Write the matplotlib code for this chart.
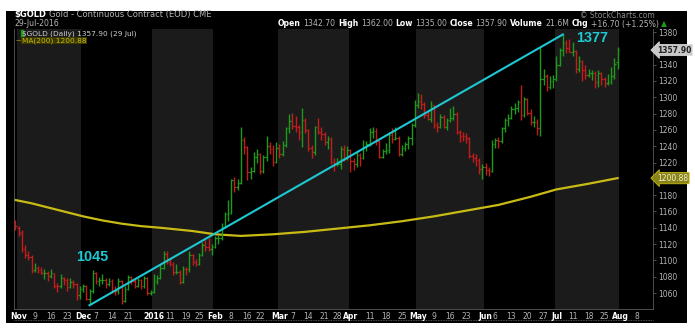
import matplotlib
matplotlib.use("Agg")
import matplotlib.pyplot as plt
import numpy as np
import pandas as pd

W, H = 695, 329

# COMEX holidays in the window
holidays = ['2015-11-26', '2015-12-25', '2016-01-01', '2016-01-18', '2016-02-15',
            '2016-03-25', '2016-05-30', '2016-07-04']

# daily OHLC, Oct 30 2015 .. Jul 29 2016 (one line per month)
opens = [1147,
    1140, 1134, 1114, 1106, 1104, 1088, 1091, 1088, 1084, 1084, 1081, 1084, 1069, 1068, 1078, 1076, 1067, 1074, 1071, 1057,
    1065, 1068, 1053, 1062, 1084, 1075, 1076, 1076, 1071, 1075, 1063, 1062, 1075, 1050, 1065, 1080, 1075, 1068, 1076, 1068, 1079, 1060,
    1061, 1075, 1078, 1091, 1108, 1098, 1096, 1086, 1086, 1073, 1090, 1089, 1106, 1098, 1096, 1107, 1119, 1116, 1114,
    1117, 1128, 1128, 1141, 1157, 1158, 1198, 1190, 1195, 1247, 1239, 1208, 1210, 1227, 1230, 1210, 1227, 1240, 1236, 1221,
    1238, 1231, 1242, 1262, 1271, 1265, 1263, 1257, 1272, 1260, 1238, 1233, 1264, 1258, 1255, 1245, 1249, 1221, 1218, 1218, 1237, 1225,
    1235, 1222, 1218, 1229, 1226, 1239, 1243, 1258, 1259, 1246, 1227, 1234, 1235, 1254, 1249, 1250, 1231, 1238, 1243, 1250, 1266,
    1290, 1295, 1292, 1278, 1273, 1290, 1266, 1264, 1276, 1264, 1272, 1275, 1280, 1257, 1253, 1252, 1250, 1228, 1226, 1223, 1212,
    1215, 1211, 1210, 1243, 1247, 1246, 1262, 1272, 1275, 1286, 1287, 1294, 1278, 1298, 1281, 1270, 1270, 1262, 1322, 1326, 1312, 1320,
    1322, 1340, 1358, 1367, 1360, 1356, 1357, 1335, 1344, 1334, 1327, 1330, 1330, 1319, 1330, 1323, 1318, 1319, 1326, 1342.7]
highs = [1150,
    1142, 1137, 1119, 1111, 1106, 1097, 1093, 1092, 1089, 1087, 1090, 1085, 1072, 1083, 1080, 1078, 1078, 1076, 1072, 1068,
    1071, 1070, 1065, 1088, 1086, 1080, 1083, 1078, 1078, 1077, 1068, 1078, 1076, 1068, 1082, 1081, 1077, 1078, 1077, 1081, 1080, 1064,
    1083, 1082, 1095, 1111, 1112, 1103, 1098, 1095, 1088, 1093, 1092, 1111, 1108, 1102, 1109, 1122, 1125, 1127, 1120,
    1130, 1131, 1146, 1159, 1174, 1200, 1202, 1200, 1263, 1251, 1240, 1215, 1233, 1236, 1232, 1229, 1253, 1245, 1241, 1245,
    1243, 1246, 1264, 1280, 1281, 1277, 1266, 1287, 1275, 1261, 1241, 1265, 1274, 1263, 1257, 1253, 1251, 1226, 1226, 1240, 1241, 1240,
    1237, 1225, 1233, 1232, 1248, 1246, 1262, 1263, 1262, 1247, 1237, 1244, 1257, 1262, 1264, 1252, 1241, 1245, 1252, 1268, 1297,
    1305, 1304, 1294, 1283, 1296, 1291, 1270, 1280, 1278, 1275, 1287, 1289, 1282, 1260, 1258, 1256, 1251, 1232, 1230, 1225, 1218,
    1219, 1215, 1248, 1250, 1251, 1264, 1275, 1279, 1289, 1293, 1297, 1315, 1300, 1299, 1286, 1277, 1273, 1362, 1335, 1328, 1326, 1327,
    1350, 1361, 1377, 1370, 1372, 1368, 1358, 1350, 1346, 1340, 1335, 1333, 1332, 1333, 1331, 1325, 1328, 1337, 1348, 1362]
lows = [1137,
    1130, 1110, 1103, 1101, 1085, 1086, 1084, 1083, 1077, 1075, 1079, 1066, 1061, 1066, 1070, 1062, 1066, 1066, 1052, 1053,
    1061, 1051, 1046, 1060, 1071, 1069, 1071, 1066, 1068, 1060, 1058, 1059, 1047, 1049, 1064, 1071, 1066, 1067, 1065, 1066, 1058, 1057,
    1060, 1071, 1077, 1089, 1096, 1093, 1082, 1083, 1071, 1072, 1082, 1086, 1094, 1093, 1094, 1105, 1112, 1111, 1107,
    1115, 1120, 1125, 1140, 1148, 1157, 1184, 1186, 1194, 1231, 1198, 1200, 1208, 1220, 1206, 1207, 1222, 1230, 1216, 1219,
    1225, 1228, 1239, 1256, 1261, 1258, 1247, 1239, 1256, 1234, 1226, 1229, 1255, 1248, 1241, 1236, 1218, 1209, 1216, 1212, 1222, 1223,
    1208, 1211, 1215, 1216, 1224, 1234, 1240, 1250, 1242, 1225, 1225, 1230, 1232, 1244, 1247, 1228, 1228, 1234, 1236, 1242, 1264,
    1287, 1286, 1275, 1272, 1270, 1262, 1258, 1262, 1262, 1260, 1270, 1272, 1255, 1245, 1246, 1244, 1226, 1221, 1216, 1206, 1200,
    1205, 1203, 1208, 1238, 1238, 1244, 1258, 1265, 1273, 1279, 1282, 1272, 1276, 1278, 1266, 1263, 1254, 1252, 1315, 1308, 1310, 1311,
    1320, 1338, 1350, 1354, 1355, 1350, 1330, 1331, 1320, 1322, 1325, 1321, 1311, 1313, 1315, 1312, 1315, 1316, 1323, 1335]
closes = [1142,
    1135, 1114, 1106, 1104, 1088, 1091, 1088, 1084, 1084, 1081, 1084, 1069, 1068, 1078, 1076, 1067, 1074, 1071, 1057, 1065,
    1068, 1053, 1062, 1084, 1075, 1076, 1076, 1071, 1075, 1063, 1062, 1075, 1050, 1065, 1080, 1075, 1068, 1076, 1068, 1079, 1060, 1061,
    1075, 1078, 1091, 1108, 1098, 1096, 1086, 1086, 1073, 1090, 1089, 1106, 1098, 1096, 1107, 1119, 1116, 1114, 1117,
    1128, 1128, 1141, 1157, 1158, 1198, 1190, 1195, 1247, 1239, 1208, 1210, 1227, 1230, 1210, 1227, 1240, 1236, 1221, 1238,
    1231, 1242, 1262, 1271, 1265, 1263, 1257, 1272, 1260, 1238, 1233, 1264, 1258, 1255, 1245, 1249, 1221, 1218, 1218, 1237, 1225, 1235,
    1222, 1218, 1229, 1226, 1239, 1243, 1258, 1259, 1246, 1227, 1234, 1235, 1254, 1249, 1250, 1231, 1238, 1243, 1250, 1266, 1290,
    1295, 1292, 1278, 1273, 1290, 1266, 1264, 1276, 1264, 1272, 1275, 1280, 1257, 1253, 1252, 1250, 1228, 1226, 1223, 1212, 1215,
    1211, 1210, 1243, 1247, 1246, 1262, 1272, 1275, 1286, 1287, 1294, 1278, 1298, 1281, 1270, 1270, 1262, 1322, 1326, 1312, 1320, 1322,
    1340, 1358, 1367, 1360, 1356, 1357, 1335, 1344, 1334, 1327, 1330, 1330, 1319, 1330, 1323, 1318, 1319, 1326, 1341.2, 1357.9]

# MA(200) read at a set of bar positions
ma_idx = [0, 5, 10, 15, 21, 27, 33, 39, 45, 50, 55, 62, 70, 80, 90, 100, 110, 120, 130, 140, 150, 160, 168, 178, 187]
ma_val = [1174, 1170, 1165, 1160, 1154, 1149, 1145, 1142, 1140, 1138, 1136, 1132, 1130, 1132, 1135, 1139, 1143,
          1148, 1154, 1161, 1168, 1178, 1187, 1194, 1200.88]

# trend line: Dec 3 low to Jul 6 high
trend_dates = ['2015-12-03', '2016-07-06']
trend_vals = [1045, 1377]

tick_dates = ['2015-11-02', '2015-11-09', '2015-11-16', '2015-11-23', '2015-12-01', '2015-12-07', '2015-12-14',
              '2015-12-21', '2016-01-04', '2016-01-11', '2016-01-19', '2016-01-25', '2016-02-01', '2016-02-08',
              '2016-02-16', '2016-02-22', '2016-03-01', '2016-03-07', '2016-03-14', '2016-03-21', '2016-03-28',
              '2016-04-01', '2016-04-11', '2016-04-18', '2016-04-25', '2016-05-02', '2016-05-09', '2016-05-16',
              '2016-05-23', '2016-06-01', '2016-06-06', '2016-06-13', '2016-06-20', '2016-06-27', '2016-07-01',
              '2016-07-11', '2016-07-18', '2016-07-25', '2016-08-01', '2016-08-08']
tick_labels = ['Nov', '9', '16', '23', 'Dec', '7', '14', '21', '2016', '11', '19', '25', 'Feb', '8', '16', '22',
               'Mar', '7', '14', '21', '28', 'Apr', '11', '18', '25', 'May', '9', '16', '23', 'Jun', '6', '13',
               '20', '27', 'Jul', '11', '18', '25', 'Aug', '8']
bold_labels = ['Nov', 'Dec', '2016', 'Feb', 'Mar', 'Apr', 'May', 'Jun', 'Jul', 'Aug']

y_ticks = [1060, 1080, 1100, 1120, 1140, 1160, 1180, 1220, 1240, 1260, 1280, 1300, 1320, 1340, 1380]

GREEN = '#1c9a1c'
RED = '#c41c1c'
CYAN = '#1ec8d2'
YELLOW = '#c8bc14'
GRAY_BAND = '#1b1b1b'
TXT = '#b4b4b4'
YMIN, YMAX = 1040.4, 1383.7

days = pd.bdate_range('2015-10-30', '2016-08-12', freq='C', holidays=holidays)
n = len(closes)
x = np.arange(n)


def pos(d):
    return days.get_loc(pd.Timestamp(d))


def px(xp, yp):
    return xp / W, 1 - yp / H


fig = plt.figure(figsize=(W / 100, H / 100), dpi=100, facecolor='white')
# black panel behind everything
fig.patches.append(plt.Rectangle(px(6, 323), 681 / W, 312 / H, transform=fig.transFigure,
                                 facecolor='black', edgecolor='none', zorder=-5))

ax = fig.add_axes([14 / W, 1 - 309 / H, (653 - 14) / W, (309 - 29) / H])
ax.set_zorder(2)
ax.set_facecolor('black')
ax.set_xlim(-0.45, 198)
ax.set_ylim(YMIN, YMAX)

# alternating month bands
months = days.month
start = 0
for i in range(1, len(days) + 1):
    if i == len(days) or months[i] != months[start]:
        if months[start] % 2 == 1:
            ax.axvspan(start - 0.5, i - 0.5, color=GRAY_BAND, lw=0, zorder=0)
        start = i

# OHLC bars, coloured against the previous close
prev = np.r_[closes[0] + 1, closes[:-1]]
cols = [GREEN if c >= p else RED for c, p in zip(closes, prev)]
ax.vlines(x, lows, highs, colors=cols, lw=1.0, zorder=3)
ax.hlines(opens, x - 0.45, x, colors=cols, lw=0.9, zorder=3)
ax.hlines(closes, x, x + 0.45, colors=cols, lw=0.9, zorder=3)

ax.plot(ma_idx, ma_val, color=YELLOW, lw=1.6, zorder=2)
ax.plot([pos(d) for d in trend_dates], trend_vals, color=CYAN, lw=1.5, zorder=4)

lab_font = dict(color=CYAN, fontsize=10.4, fontweight='bold', family='Liberation Sans',
                ha='center', va='center', zorder=5)
ax.text(pos(trend_dates[0]) + 0.8, 1104, '1045', **lab_font)
ax.text(pos(trend_dates[1]) + 9, 1373, '1377', **lab_font)

# axes styling
for s in ax.spines.values():
    s.set_color('#5a5a5a')
    s.set_linewidth(0.6)
ax.spines['top'].set_visible(False)
ax.yaxis.tick_right()
ax.set_yticks(y_ticks)
ax.set_yticklabels([str(v) for v in y_ticks])
ax.tick_params(axis='y', colors='#5a5a5a', labelcolor=TXT, labelsize=5.5, length=2, width=0.6, pad=2)

ax.set_xticks([pos(d) for d in tick_dates])
ax.set_xticklabels(tick_labels)
ax.tick_params(axis='x', length=0, labelsize=5.5, labelcolor=TXT, pad=2.5)
for t in ax.get_xticklabels():
    if t.get_text() in bold_labels:
        t.set_fontweight('bold')
        t.set_color('white')

# price flags on the right axis
ax.text(1.006, (closes[-1] - YMIN) / (YMAX - YMIN), '%.2f' % closes[-1], transform=ax.transAxes,
        fontsize=5.5, color='#222222', fontweight='bold', va='center', ha='left', clip_on=False,
        bbox=dict(boxstyle='larrow,pad=0.15', facecolor='#c8c8c8', edgecolor='#e0e0e0', lw=0.5))
ax.text(1.006, (ma_val[-1] - YMIN) / (YMAX - YMIN), '%.2f' % ma_val[-1], transform=ax.transAxes,
        fontsize=5.5, color='#f0f0d0', va='center', ha='left', clip_on=False,
        bbox=dict(boxstyle='larrow,pad=0.15', facecolor='#8a8418', edgecolor=YELLOW, lw=0.6))

# bottom dotted rule
fig.add_artist(plt.Line2D([14 / W, 653 / W], [1 - 320 / H] * 2, transform=fig.transFigure,
                          color='#6a6a6a', lw=0.6, ls=(0, (1, 1))))

# header
renderer = fig.canvas.get_renderer()


def chain(x0, y0, pieces, size=5.6, gap=3):
    xx = x0
    for s, bold, c in pieces:
        t = fig.text(*px(xx, y0), s, fontsize=size, color=c, fontweight='bold' if bold else 'normal',
                     ha='left', va='center', zorder=6)
        xx += t.get_window_extent(renderer=renderer).width + gap


chain(14, 15, [('$GOLD', True, 'white'), ('Gold - Continuous Contract (EOD) CME', False, TXT)], size=6)
chain(14, 24, [('29-Jul-2016', False, TXT)])
chain(278, 24, [('Open', True, 'white'), ('1342.70', False, TXT), ('High', True, 'white'), ('1362.00', False, TXT),
                ('Low', True, 'white'), ('1335.00', False, TXT), ('Close', True, 'white'), ('1357.90', False, TXT),
                ('Volume', True, 'white'), ('21.6M', False, TXT), ('Chg', True, 'white'),
                ('+16.70 (+1.25%)', False, TXT), ('\u25b2', False, GREEN)], gap=2.5)
fig.text(*px(655, 15), '\u00a9 StockCharts.com', fontsize=5.5, color='#8a8a8a', ha='right', va='center')

# legend (inside the plot area, above the bars)
fig.text(*px(17, 34), '\u2590', fontsize=5.5, color=GREEN, ha='left', va='center', zorder=6)
chain(22, 34, [('$GOLD (Daily) 1357.90 (29 Jul)', False, '#d0d0d0')], size=5.3)
fig.text(*px(16, 40.5), '\u2014', fontsize=5.3, color=YELLOW, ha='left', va='center', zorder=6)
fig.text(*px(22, 40.5), 'MA(200) 1200.88', fontsize=5.3, color=YELLOW, ha='left', va='center', zorder=6,
         bbox=dict(boxstyle='square,pad=0.1', facecolor='#3a3800', edgecolor='none'))

fig.savefig('out.png', dpi=100, facecolor='white')
